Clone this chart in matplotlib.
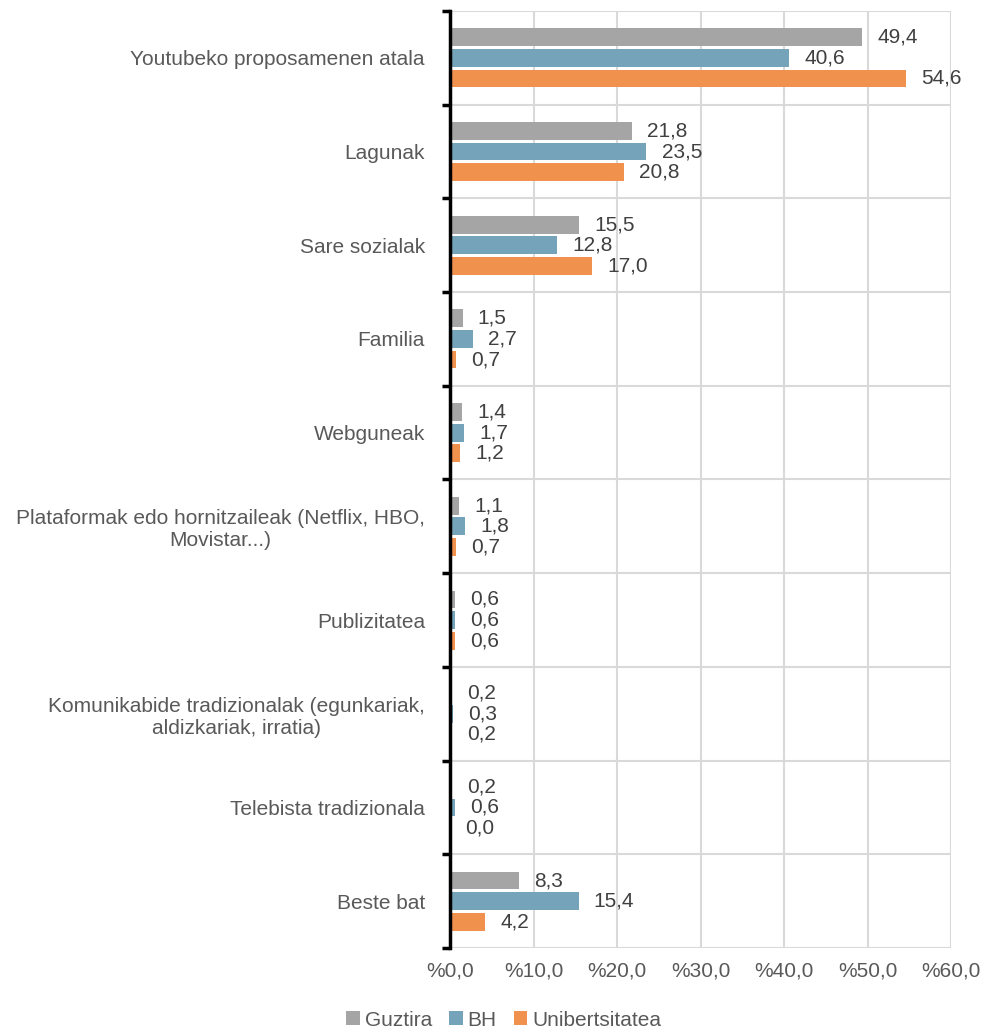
import matplotlib
matplotlib.use("Agg")
import matplotlib.pyplot as plt
import numpy as np

plt.rcParams['font.family'] = ['Liberation Sans', 'DejaVu Sans']

categories = [
    "Youtubeko proposamenen atala",
    "Lagunak",
    "Sare sozialak",
    "Familia",
    "Webguneak",
    "Plataformak edo hornitzaileak (Netflix, HBO,\nMovistar...)",
    "Publizitatea",
    "Komunikabide tradizionalak (egunkariak,\naldizkariak, irratia)",
    "Telebista tradizionala",
    "Beste bat",
]
series_names = ["Guztira", "BH", "Unibertsitatea"]
guztira = [49.4, 21.8, 15.5, 1.5, 1.4, 1.1, 0.6, 0.2, 0.2, 8.3]
bh = [40.6, 23.5, 12.8, 2.7, 1.7, 1.8, 0.6, 0.3, 0.6, 15.4]
unibertsitatea = [54.6, 20.8, 17.0, 0.7, 1.2, 0.7, 0.6, 0.2, 0.0, 4.2]
xticks = [0, 10, 20, 30, 40, 50, 60]
xtick_labels = ["%0,0", "%10,0", "%20,0", "%30,0", "%40,0", "%50,0", "%60,0"]

colors = ["#A5A5A5", "#75A3B9", "#F0914E"]
FS = 15

fig = plt.figure(figsize=(9.84, 10.32), dpi=100)
ax = fig.add_axes([450/984, 1-948/1032, (951-450)/984, (948-11)/1032])

n = len(categories)
y = np.arange(n)
offsets = [-0.22, 0.0, 0.22]
h = 0.19
for vals, c, off, name in zip([guztira, bh, unibertsitatea], colors, offsets, series_names):
    bars = ax.barh(y + off, vals, height=h, color=c, label=name, zorder=3)
    for b, v in zip(bars, vals):
        ax.annotate(f"{v:.1f}".replace(".", ","), xy=(v, b.get_y() + b.get_height()/2),
                    xytext=(11, 0), textcoords="offset points", va="center", ha="left",
                    fontsize=FS, color="#404040")

ax.set_xlim(0, 60)
ax.set_ylim(n - 0.5, -0.5)
ax.set_xticks(xticks)
ax.set_xticklabels(xtick_labels, fontsize=FS, color="#595959")
ax.set_yticks(y)
ax.set_yticklabels(categories, fontsize=FS, color="#595959", multialignment="center")
ax.set_yticks(np.arange(-0.5, n, 1.0), minor=True)
ax.tick_params(axis="y", which="major", length=0, pad=18)
ax.tick_params(axis="y", which="minor", length=6, width=2.5, direction="out", color="black")
ax.tick_params(axis="x", length=0, pad=10)

ax.grid(axis="x", which="major", color="#D9D9D9", linewidth=1.5, zorder=0)
ax.grid(axis="y", which="minor", color="#D9D9D9", linewidth=1.5, zorder=0)
ax.grid(axis="y", which="major", visible=False)
for s in ["top", "right", "bottom"]:
    ax.spines[s].set_visible(False)
ax.spines["left"].set_color("black")
ax.spines["left"].set_linewidth(2.5)
ax.spines["left"].set_zorder(5)

leg = fig.legend(loc="lower center", bbox_to_anchor=(0.512, -0.016), ncol=3, frameon=False,
                 fontsize=FS, handlelength=0.65, handleheight=0.65, handletextpad=0.25,
                 columnspacing=0.8)
for t in leg.get_texts():
    t.set_color("#595959")

fig.savefig("out.png", dpi=100)
